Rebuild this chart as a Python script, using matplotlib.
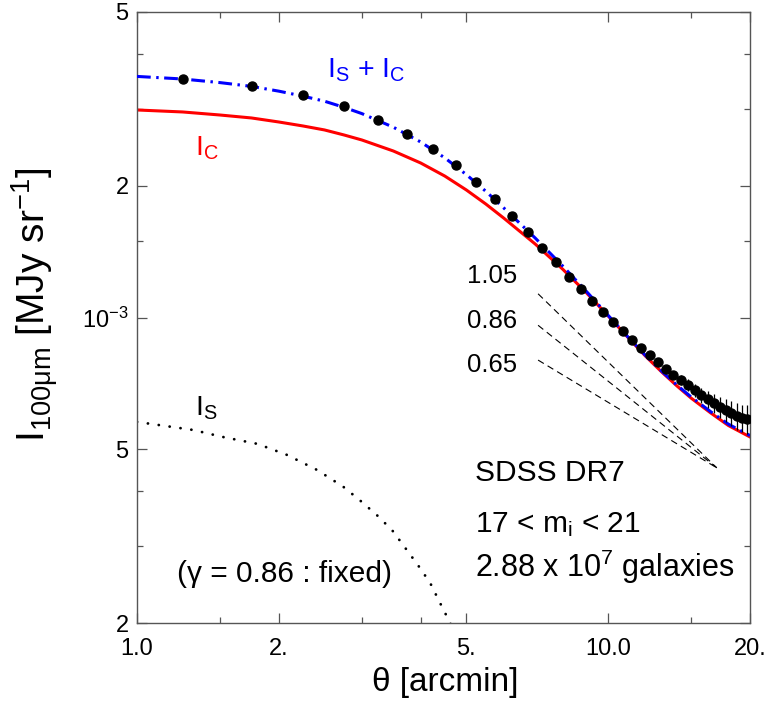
import matplotlib
matplotlib.use("Agg")
import matplotlib.pyplot as plt
import numpy as np
from matplotlib.ticker import FixedLocator, FixedFormatter, NullFormatter

plt.rcParams['font.family'] = ['Liberation Sans', 'DejaVu Sans']
plt.rcParams['mathtext.fontset'] = 'custom'
plt.rcParams['mathtext.rm'] = 'Liberation Sans'
plt.rcParams['mathtext.default'] = 'regular'

# measured profile (black dots + error bars)
theta = [1.25, 1.75, 2.25, 2.75, 3.25, 3.75, 4.25, 4.75, 5.25, 5.75,
         6.25, 6.75, 7.25, 7.75, 8.25, 8.75, 9.25, 9.75, 10.25, 10.75,
         11.25, 11.75, 12.25, 12.75, 13.25, 13.75, 14.25, 14.75, 15.25, 15.75,
         16.25, 16.75, 17.25, 17.75, 18.25, 18.75, 19.25, 19.75]
I_obs = [3.51e-3, 3.39e-3, 3.23e-3, 3.05e-3, 2.83e-3, 2.63e-3, 2.43e-3, 2.23e-3, 2.04e-3, 1.87e-3,
         1.71e-3, 1.57e-3, 1.44e-3, 1.34e-3, 1.24e-3, 1.16e-3, 1.09e-3, 1.03e-3, 9.77e-4, 9.31e-4,
         8.88e-4, 8.51e-4, 8.21e-4, 7.91e-4, 7.62e-4, 7.39e-4, 7.19e-4, 7.01e-4, 6.82e-4, 6.65e-4,
         6.51e-4, 6.37e-4, 6.24e-4, 6.14e-4, 6.05e-4, 5.95e-4, 5.89e-4, 5.86e-4]
I_err = [2.0e-5, 2.0e-5, 2.0e-5, 1.9e-5, 1.8e-5, 1.7e-5, 1.6e-5, 1.5e-5, 1.4e-5, 1.3e-5,
         1.2e-5, 1.1e-5, 1.0e-5, 1.0e-5, 1.0e-5, 1.0e-5, 1.0e-5, 1.0e-5, 1.0e-5, 1.1e-5,
         1.2e-5, 1.3e-5, 1.4e-5, 1.5e-5, 1.6e-5, 1.7e-5, 1.9e-5, 2.1e-5, 2.3e-5, 2.6e-5,
         2.9e-5, 3.2e-5, 3.5e-5, 3.7e-5, 3.9e-5, 4.1e-5, 4.3e-5, 4.5e-5]

# model curves
th_m = [1, 1.25, 1.5, 1.75, 2, 2.25, 2.5, 2.75, 3, 3.5, 4, 4.5, 5, 5.5, 6,
        7, 8, 9, 10, 11, 12, 13, 14, 15, 16.5, 18, 20]
I_c = [2.984e-3, 2.953e-3, 2.906e-3, 2.861e-3, 2.801e-3, 2.743e-3, 2.686e-3, 2.616e-3, 2.548e-3,
       2.404e-3, 2.257e-3, 2.107e-3, 1.958e-3, 1.818e-3, 1.689e-3, 1.473e-3, 1.291e-3, 1.138e-3,
       1.008e-3, 9.02e-4, 8.16e-4, 7.50e-4, 6.97e-4, 6.54e-4, 6.05e-4, 5.66e-4, 5.33e-4]
I_tot = [3.561e-3, 3.513e-3, 3.447e-3, 3.379e-3, 3.295e-3, 3.210e-3, 3.125e-3, 3.026e-3, 2.928e-3,
         2.725e-3, 2.521e-3, 2.319e-3, 2.123e-3, 1.944e-3, 1.782e-3, 1.520e-3, 1.313e-3, 1.146e-3,
         1.011e-3, 9.04e-4, 8.19e-4, 7.53e-4, 7.00e-4, 6.58e-4, 6.09e-4, 5.70e-4, 5.37e-4]

th_s = [1.0, 1.315, 1.52, 1.8, 2.08, 2.41, 2.74, 2.97, 3.23, 3.48, 3.71, 3.95, 4.19, 4.4, 4.62, 4.85]
I_s = [5.77e-4, 5.53e-4, 5.33e-4, 5.14e-4, 4.85e-4, 4.48e-4, 4.10e-4, 3.82e-4, 3.53e-4, 3.26e-4,
       2.97e-4, 2.71e-4, 2.47e-4, 2.22e-4, 2.0e-4, 1.78e-4]

# power-law guides
gammas = [1.05, 0.86, 0.65]
guide_th = [7.1, 17.0]
guide_apex = 4.53e-4

fig = plt.figure(figsize=(7.66, 7.28), dpi=100)
ax = fig.add_axes([137/766, 1-623/728, 613/766, 611/728])
ax.set_xscale('log')
ax.set_yscale('log')

ax.plot(th_m, I_c, color='#ff0000', lw=2.2, zorder=2)
ax.plot(th_m, I_tot, color='#0000ff', lw=2.2, linestyle=(0, (4.5, 1.8, 0.8, 1.8)), zorder=3)
ax.plot(th_s, I_s, color='k', lw=2.0, linestyle=(0, (0.05, 3.9)), dash_capstyle='round', zorder=2)

for g in gammas:
    t = np.array(guide_th)
    ax.plot(t, guide_apex*(t/guide_th[1])**(-g), color='k', lw=0.8,
            linestyle=(0, (6, 4)), zorder=2)

ax.errorbar(theta, I_obs, yerr=I_err, fmt='o', color='k', ms=6.5,
            elinewidth=0.9, capsize=0, zorder=5)

ax.set_xlim(1, 20)
ax.set_ylim(2e-4, 5e-3)

ax.xaxis.set_major_locator(FixedLocator([1, 2, 5, 10, 20]))
ax.xaxis.set_major_formatter(FixedFormatter(['1.0', '2.', '5.', '10.0', '20.']))
ax.xaxis.set_minor_locator(FixedLocator([1.5, 3, 4, 15]))
ax.xaxis.set_minor_formatter(NullFormatter())
ax.yaxis.set_major_locator(FixedLocator([2e-4, 5e-4, 1e-3, 2e-3, 5e-3]))
ax.yaxis.set_major_formatter(FixedFormatter(['2', '5', r'$10^{-3}$', '2', '5']))
ax.yaxis.set_minor_locator(FixedLocator([3e-4, 4e-4, 1.5e-3, 3e-3, 4e-3]))
ax.yaxis.set_minor_formatter(NullFormatter())

spine_c = '#555555'
for s in ax.spines.values():
    s.set_color(spine_c)
    s.set_linewidth(1.0)
ax.tick_params(which='both', direction='in', top=True, right=True, color=spine_c,
               width=0.9, labelsize=17, labelcolor='k')
ax.tick_params(which='major', length=7.5)
ax.tick_params(which='minor', length=4)
ax.tick_params(axis='x', pad=11)
ax.tick_params(axis='y', pad=6)

def at(x, y):
    return x/766, 1 - y/728

fig.text(*at(35, 305), r'$I_{100μm}$ [MJy sr$^{-1}$]', rotation=90,
         ha='center', va='center', fontsize=28)
fig.text(*at(445, 683), 'θ [arcmin]', ha='center', va='center', fontsize=24)

fig.text(*at(327, 77), r'$I_S$ + $I_C$', color='#0000ff', fontsize=20.5, ha='left', va='baseline')
fig.text(*at(195, 155), r'$I_C$', color='#ff0000', fontsize=20.5, ha='left', va='baseline')
fig.text(*at(195, 416), r'$I_S$', color='k', fontsize=20.5, ha='left', va='baseline')

for lab, yb in zip(['1.05', '0.86', '0.65'], [283, 328, 372]):
    fig.text(*at(517, yb), lab, fontsize=18.5, ha='right', va='baseline')

fig.text(*at(475, 481), 'SDSS DR7', fontsize=21.5, ha='left', va='baseline')
fig.text(*at(475, 532), r'17 < m$_i$ < 21', fontsize=21.5, ha='left', va='baseline')
fig.text(*at(475, 577), r'2.88 x 10$^7$ galaxies', fontsize=22, ha='left', va='baseline')
fig.text(*at(177, 582), '(γ = 0.86 : fixed)', fontsize=21.5, ha='left', va='baseline')

fig.savefig('out.png', dpi=100)
